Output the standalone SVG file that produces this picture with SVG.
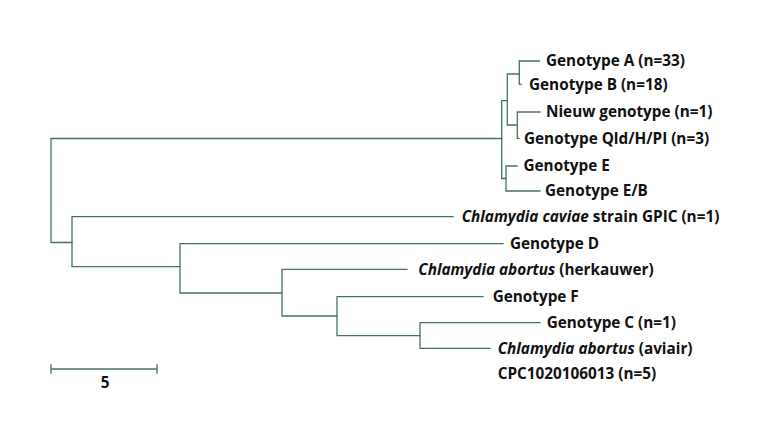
<svg xmlns="http://www.w3.org/2000/svg" width="770" height="430" viewBox="0 0 770 430">
<style>
.br{fill:none;stroke:#44755a;stroke-width:1.3;stroke-linecap:square}
text{font-family:"Open Sans","Noto Sans","Liberation Sans",sans-serif;font-weight:700;font-size:15.3px;fill:#111}
.i{font-style:italic}
</style>
<rect width="770" height="430" fill="#fff"/>
<g id="connectors">
<path class="br" d="M51,138.5V242.5M51,138.5H501.7M51,242.5H72"/>
<path class="br" d="M72,216.7V266.7M72,216.7H453M72,266.7H180"/>
<path class="br" d="M180,243.7V293M180,243.7H503M180,293H282"/>
<path class="br" d="M282,269.3V316M282,269.3H407M282,316H337"/>
<path class="br" d="M337,296.7V335.7M337,296.7H483M337,335.7H420"/>
<path class="br" d="M420,322.7V348.3M420,322.7H540M420,348.3H490"/>
<path class="br" d="M501.7,100.7V178.5M501.7,100.7H507.3M501.7,178.5H506"/>
<path class="br" d="M507.3,74V125M507.3,74H519.3M507.3,125H517.3"/>
<path class="br" d="M519.3,61V84.3M519.3,61H539.3M519.3,84.3H521"/>
<path class="br" d="M517.3,112V138.3M517.3,112H540M517.3,138.3H519"/>
<path class="br" d="M506,166V191M506,166H517M506,191H540"/>
<path class="br" d="M51,369H157M51,365V373M157,365V373"/>
</g>
<g id="n-a"><text x="546" y="66">Genotype A (n=33)</text></g>
<g id="n-b"><text x="529" y="89.5">Genotype B (n=18)</text></g>
<g id="n-nieuw"><text x="546" y="117">Nieuw genotype (n=1)</text></g>
<g id="n-qld"><text x="524" y="143.5">Genotype Qld/H/PI (n=3)</text></g>
<g id="n-e"><text x="523.5" y="171">Genotype E</text></g>
<g id="n-eb"><text x="545" y="196">Genotype E/B</text></g>
<g id="n-caviae"><text x="461.7" y="222"><tspan class="i">Chlamydia caviae</tspan> strain GPIC (n=1)</text></g>
<g id="n-d"><text x="510" y="249">Genotype D</text></g>
<g id="n-herk"><text x="418.3" y="274.5"><tspan class="i">Chlamydia abortus</tspan> (herkauwer)</text></g>
<g id="n-f"><text x="492.7" y="302">Genotype F</text></g>
<g id="n-c"><text x="546.7" y="328">Genotype C (n=1)</text></g>
<g id="n-aviair"><text x="497.7" y="353.5"><tspan class="i">Chlamydia abortus</tspan> (aviair)</text><text x="497.7" y="379">CPC1020106013 (n=5)</text></g>
<g id="scale"><text x="105" y="388.3" text-anchor="middle">5</text></g>
</svg>
